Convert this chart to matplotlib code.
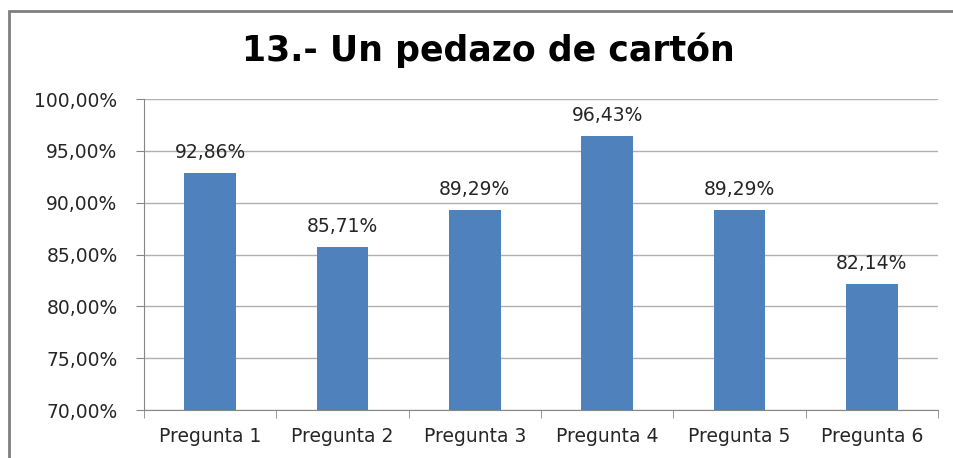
import matplotlib.pyplot as plt
from matplotlib.patches import Rectangle

preguntas = ['Pregunta 1', 'Pregunta 2', 'Pregunta 3', 'Pregunta 4', 'Pregunta 5', 'Pregunta 6']
valores = [92.86, 85.71, 89.29, 96.43, 89.29, 82.14]
etiquetas = ['92,86%', '85,71%', '89,29%', '96,43%', '89,29%', '82,14%']
yticks = [70, 75, 80, 85, 90, 95, 100]
ytick_labels = ['70,00%', '75,00%', '80,00%', '85,00%', '90,00%', '95,00%', '100,00%']

plt.rcParams['font.family'] = ['DejaVu Sans']

fig = plt.figure(figsize=(9.54, 4.58), dpi=100)
ax = fig.add_axes([0.1509, 0.1048, 0.8323, 0.679])

x = range(len(preguntas))
bars = ax.bar(x, valores, width=0.39, color='#4F81BD', zorder=3)
for b, lab in zip(bars, etiquetas):
    ax.annotate(lab, (b.get_x() + b.get_width() / 2, b.get_height()),
                xytext=(0, 8), textcoords='offset points',
                ha='center', va='bottom', fontsize=13.5, color='#262626')

ax.set_ylim(70, 100)
ax.set_xlim(-0.5, 5.5)
ax.set_yticks(yticks)
ax.set_yticklabels(ytick_labels, fontsize=13.5, color='#262626')
ax.set_xticks(list(x))
ax.set_xticklabels(preguntas, fontsize=13.5, color='#262626')
ax.tick_params(axis='x', length=0, pad=12)
ax.tick_params(axis='y', length=6, color='#868686', pad=13)
# category boundary ticks
ax.set_xticks([i - 0.5 for i in range(len(preguntas) + 1)], minor=True)
ax.tick_params(axis='x', which='minor', length=6, color='#868686')

ax.grid(axis='y', color='#B0B0B0', linewidth=1.0, zorder=0)
for s in ['top', 'right']:
    ax.spines[s].set_visible(False)
ax.spines['left'].set_color('#868686')
ax.spines['bottom'].set_color('#868686')

fig.text(0.512, 0.89, '13.- Un pedazo de cartón', ha='center', va='center',
         fontsize=25, fontweight='bold', color='black')

fig.patches.append(Rectangle((9 / 954, -0.05), 1.0, 1 - 11 / 458 + 0.05,
                             transform=fig.transFigure, fill=False,
                             edgecolor='#7F7F7F', linewidth=2))

fig.savefig('out.png', dpi=100)
